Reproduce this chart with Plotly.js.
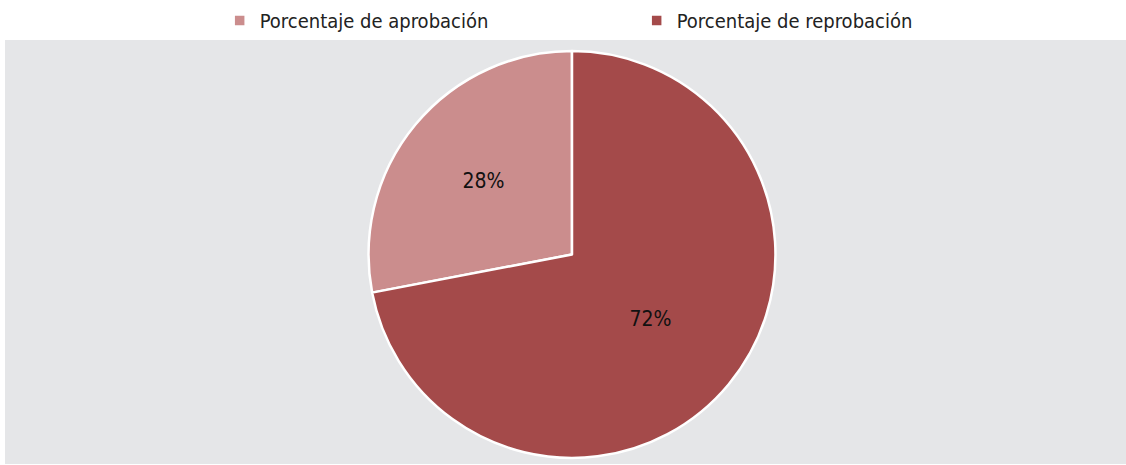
<!DOCTYPE html>
<html>
<head>
<meta charset="utf-8">
<script src="https://cdn.plot.ly/plotly-3.0.1.min.js"></script>
<style>html,body{margin:0;padding:0;background:#fff;}#chart{width:1126px;height:465px;}</style>
</head>
<body>
<div id="chart"></div>
<script>
const categories = ["Porcentaje de aprobación", "Porcentaje de reprobación"];
const values = [28, 72];
const colors = ["#CB8D8D", "#A44A4A"];

const FONT = "'DejaVu Sans Condensed', 'Liberation Sans Narrow', 'Liberation Sans', Arial, sans-serif";
const total = values.reduce((a, b) => a + b, 0);

const data = [{
  type: "pie",
  labels: categories,
  values: values,
  sort: false,
  direction: "counterclockwise",
  rotation: -values[0] / total * 360,
  marker: { colors: colors, line: { color: "#FFFFFF", width: 2.5 } },
  textinfo: "percent",
  texttemplate: "%{value}%",
  textposition: "inside",
  insidetextorientation: "horizontal",
  textfont: { family: FONT, size: 21, color: "#111111" },
  hoverinfo: "label+percent",
  domain: { x: [0.3243, 0.6873], y: [0.0142, 0.974] }
}];

const layout = {
  width: 1126,
  height: 465,
  margin: { l: 5, r: 0, t: 40, b: 1 },
  paper_bgcolor: "#FFFFFF",
  showlegend: true,
  legend: {
    orientation: "h",
    x: 0.1915, xanchor: "left",
    y: 1.0, yanchor: "bottom",
    yref: "paper",
    entrywidth: 372,
    entrywidthmode: "pixels",
    font: { family: FONT, size: 20, color: "#222222" },
    bgcolor: "rgba(0,0,0,0)",
    traceorder: "normal"
  },
  shapes: [{
    type: "rect", xref: "paper", yref: "paper",
    x0: 0, x1: 1, y0: 0, y1: 1,
    fillcolor: "#E5E6E8", line: { width: 0 }, layer: "below"
  }]
};

Plotly.newPlot("chart", data, layout, { displayModeBar: false, staticPlot: true });
</script>
</body>
</html>
